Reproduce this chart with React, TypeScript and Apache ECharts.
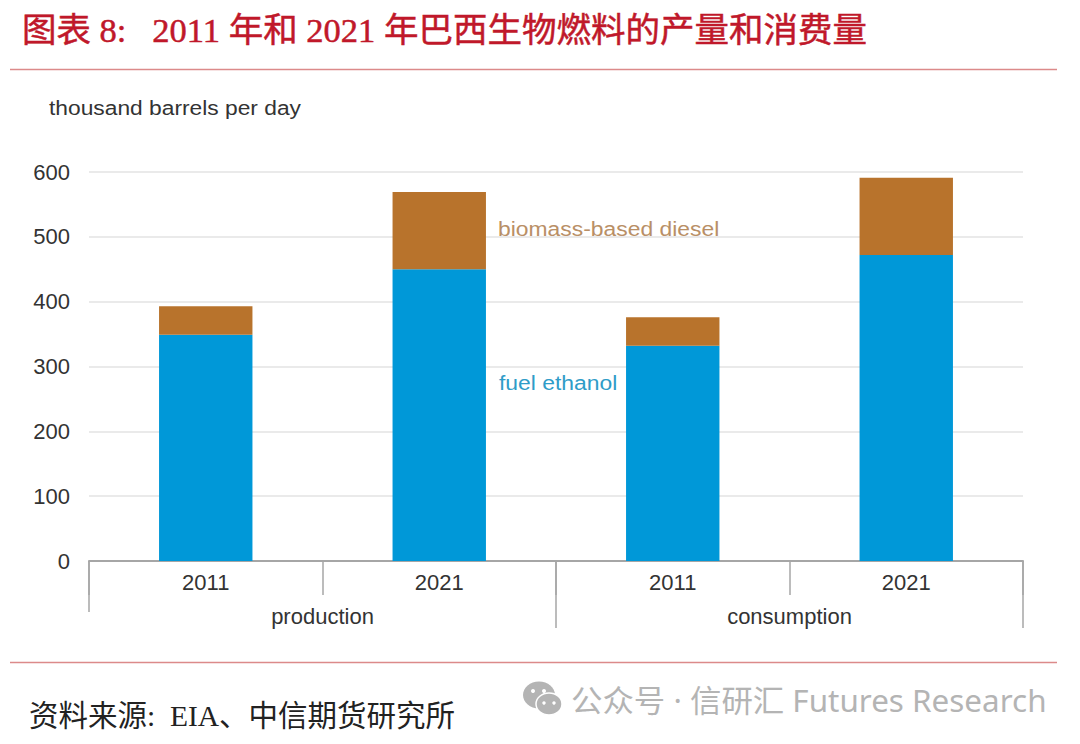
import React, { useEffect, useRef } from "react";
import * as echarts from "echarts";

const yearLabels = ["2011", "2021", "2011", "2021"];
const groupLabels = ["production", "consumption"];
const fuelEthanol = [349, 450, 332, 472];
const biomassDiesel = [44, 119, 44, 119];
const yTicks = { min: 0, max: 600, interval: 100 };

const titleText = "图表 8:   2011 年和 2021 年巴西生物燃料的产量和消费量";
const unitText = "thousand barrels per day";
const sourceText = "资料来源:  EIA、中信期货研究所";
const watermarkText = "公众号 · 信研汇 Futures Research";

const sans = "'Liberation Sans', Arial, sans-serif";
const cjk = "'Liberation Serif', 'Noto Sans CJK SC', serif";
const wechat = "'Noto Sans', 'Noto Sans CJK SC', sans-serif";
const labelColor = "#333333";
const axisColor = "#a6a6a6";
const gridColor = "#e3e3e3";
const ruleColor = "#dc8a8a";
const markGray = "#b4b4b4";

export default function App() {
  const ref = useRef<HTMLDivElement>(null);
  useEffect(() => {
    const chart = echarts.init(ref.current!, undefined, { renderer: "svg" });
    chart.setOption({
      animation: false,
      backgroundColor: "#ffffff",
      grid: { left: 89, right: 57, top: 172, height: 389, containLabel: false },
      xAxis: [
        {
          type: "category",
          data: yearLabels,
          position: "bottom",
          axisLine: { show: true, lineStyle: { color: axisColor, width: 2 } },
          axisTick: { show: true, alignWithLabel: false, length: 34, lineStyle: { color: axisColor, width: 1.5 } },
          axisLabel: { color: labelColor, fontFamily: sans, fontSize: 22, margin: 10 },
        },
        {
          type: "category",
          data: groupLabels,
          position: "bottom",
          axisLine: { show: false },
          axisTick: { show: true, alignWithLabel: false, length: 67, lineStyle: { color: axisColor, width: 1.5 } },
          axisLabel: { color: labelColor, fontFamily: sans, fontSize: 22, margin: 44 },
        },
      ],
      yAxis: {
        type: "value",
        min: yTicks.min,
        max: yTicks.max,
        interval: yTicks.interval,
        axisLine: { show: false },
        axisTick: { show: false },
        axisLabel: { color: labelColor, fontFamily: sans, fontSize: 22, margin: 19 },
        splitLine: { show: true, lineStyle: { color: gridColor, width: 1.5 } },
      },
      series: [
        {
          name: "fuel ethanol",
          type: "bar",
          stack: "total",
          barWidth: "40%",
          data: fuelEthanol,
          itemStyle: { color: "#0098d8" },
        },
        {
          name: "biomass-based diesel",
          type: "bar",
          stack: "total",
          barWidth: "40%",
          data: biomassDiesel,
          itemStyle: { color: "#b8732c" },
        },
      ],
      graphic: [
        { type: "text", x: 22, y: 13, style: { text: titleText, fill: "#c0182a", stroke: "#c0182a", lineWidth: 0.5, font: `34.5px ${cjk}` } },
        { type: "line", shape: { x1: 10, y1: 69.5, x2: 1057, y2: 69.5 }, style: { stroke: ruleColor, lineWidth: 1.5 } },
        { type: "text", x: 49, y: 97, scaleX: 1.085, style: { text: unitText, fill: labelColor, font: `21px ${sans}` } },
        { type: "text", x: 498, y: 218, scaleX: 1.09, style: { text: "biomass-based diesel", fill: "#b98f66", font: `21px ${sans}` } },
        { type: "text", x: 499, y: 372, scaleX: 1.09, style: { text: "fuel ethanol", fill: "#2f9cc8", font: `21px ${sans}` } },
        { type: "line", shape: { x1: 10, y1: 662.5, x2: 1057, y2: 662.5 }, style: { stroke: ruleColor, lineWidth: 1.5 } },
        { type: "text", x: 29, y: 701, style: { text: sourceText, fill: "#222222", font: `29.5px ${cjk}` } },
        { type: "ellipse", shape: { cx: 539, cy: 695, rx: 16, ry: 13.5 }, style: { fill: markGray } },
        { type: "ellipse", shape: { cx: 549, cy: 704, rx: 13, ry: 11 }, style: { fill: markGray, stroke: "#ffffff", lineWidth: 1.5 } },
        { type: "circle", shape: { cx: 533, cy: 691, r: 2 }, style: { fill: "#ffffff" } },
        { type: "circle", shape: { cx: 544, cy: 691, r: 2 }, style: { fill: "#ffffff" } },
        { type: "circle", shape: { cx: 544, cy: 703, r: 1.7 }, style: { fill: "#ffffff" } },
        { type: "circle", shape: { cx: 554, cy: 703, r: 1.7 }, style: { fill: "#ffffff" } },
        { type: "text", x: 571, y: 685, scaleX: 1.03, style: { text: watermarkText, fill: markGray, font: `30.5px ${wechat}` } },
        { type: "rect", shape: { x: 87, y: 612, width: 4, height: 18 }, style: { fill: "#ffffff" }, z: 10 },
      ],
    });
    return () => chart.dispose();
  }, []);
  return (
    <div
      ref={ref}
      style={{ position: "fixed", left: 0, top: 0, width: 1080, height: 744 }}
    />
  );
}
